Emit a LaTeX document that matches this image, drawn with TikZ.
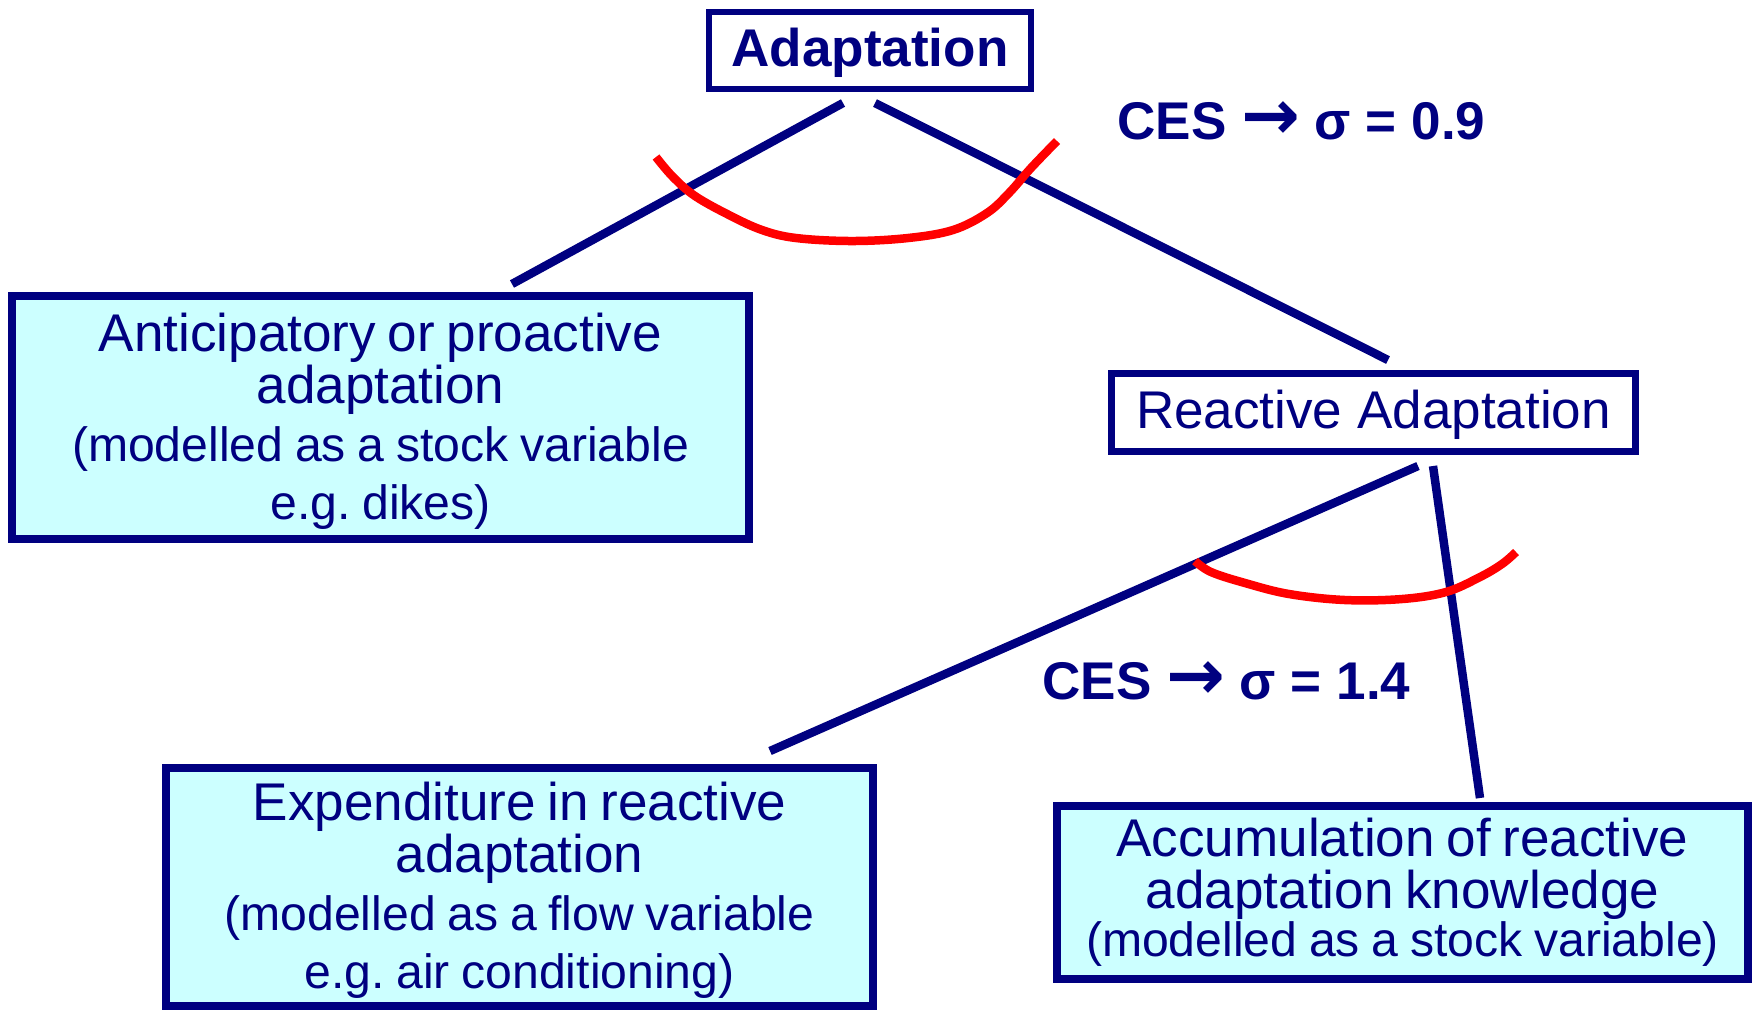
\documentclass[tikz,border=0pt]{standalone}
\usepackage{fontspec}
\setmainfont{Liberation Sans}
\newfontfamily\arrowfont{DejaVu Sans}
\definecolor{navy}{HTML}{000080}
\definecolor{iceblue}{HTML}{CCFFFF}
\definecolor{arcred}{HTML}{FF0000}
\newcommand\titlesize{\fontsize{15.1}{14.8}\selectfont}
\newcommand\notesize{\fontsize{13.7}{16.5}\selectfont}
\newcommand\ato{{\arrowfont\bfseries\fontsize{20}{20}\selectfont →}}
\frenchspacing
\tikzset{every node/.style={text=navy, inner sep=0pt, align=center},
  wbox/.style={draw=navy, line width=0.065cm, fill=white, font=\titlesize, text height=12.5pt, text depth=3.2pt},
  cbox/.style={draw=navy, line width=0.08cm, fill=iceblue},
  ceslabel/.style={font=\titlesize\bfseries, text height=11pt, text depth=0pt},
  link/.style={navy, line width=0.085cm},
  bow/.style={arcred, line width=0.085cm}}

\begin{document}
\begin{tikzpicture}
  \useasboundingbox (0,0) rectangle (17.58,-10.09);
  \node[wbox, minimum width=3.22cm, minimum height=0.77cm, font=\titlesize\bfseries] (adapt) at (8.70,-0.505) {Adaptation};
  \node[cbox, minimum width=7.37cm, minimum height=2.43cm, text width=7.2cm] (antic) at (3.805,-4.175)
    {\titlesize Anticipatory or proactive\\adaptation\par
     \notesize (modelled as a stock variable\\e.g. dikes)\par\vspace{-2pt}};
  \node[wbox, minimum width=5.24cm, minimum height=0.78cm] (react) at (13.735,-4.125) {Reactive Adaptation};
  \node[cbox, minimum width=7.07cm, minimum height=2.385cm, text width=6.9cm] (expend) at (5.195,-8.8675)
    {\titlesize Expenditure in reactive\\adaptation\par
     \notesize (modelled as a flow variable\\e.g. air conditioning)\par\vspace{-2pt}};
  \node[cbox, minimum width=6.91cm, minimum height=1.73cm, text width=6.8cm] (accum) at (14.025,-8.925)
    {\titlesize Accumulation of reactive\\adaptation knowledge\par
     \fontsize{13.7}{13.7}\selectfont (modelled as a stock variable)\par};
  \node[ceslabel] (ces1) at (13.015,-1.20) {CES \ato{} σ = 0.9};
  \node[ceslabel] (ces2) at (12.265,-6.80) {CES \ato{} σ = 1.4};

  \coordinate (a1) at (8.43,-1.03);  \coordinate (p1) at (5.12,-2.84);
  \coordinate (a2) at (8.75,-1.03);  \coordinate (r1) at (13.88,-3.60);
  \coordinate (r2) at (14.18,-4.66); \coordinate (e1) at (7.70,-7.51);
  \coordinate (r3) at (14.33,-4.66); \coordinate (k1) at (14.80,-7.98);
  \draw[link] (a1) -- (p1);
  \draw[link] (a2) -- (r1);
  \draw[link] (r2) -- (e1);
  \draw[link] (r3) -- (k1);

  \draw[bow] plot[smooth, tension=0.6] coordinates {(6.56,-1.57) (6.73,-1.77) (6.95,-1.96) (7.29,-2.15)
    (7.62,-2.30) (7.96,-2.38) (8.52,-2.41) (9.08,-2.38) (9.53,-2.30) (9.87,-2.13) (10.09,-1.93) (10.31,-1.68) (10.57,-1.41)};
  \draw[bow] plot[smooth, tension=0.6] coordinates {(11.95,-5.61) (12.11,-5.72) (12.45,-5.83) (12.89,-5.94)
    (13.45,-6.00) (14.02,-5.99) (14.46,-5.92) (14.80,-5.77) (15.02,-5.64) (15.16,-5.52)};
\end{tikzpicture}
\end{document}
